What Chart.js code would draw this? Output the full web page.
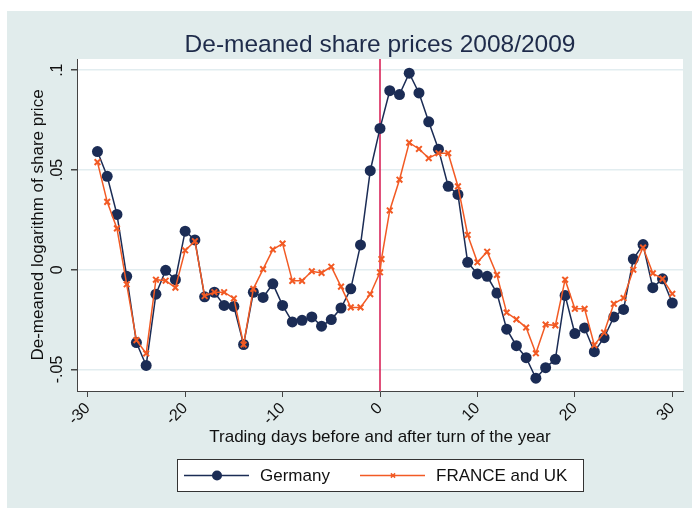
<!doctype html>
<html>
<head>
    <meta charset="utf-8" />
    <title>De-meaned share prices 2008/2009</title>
    <script src="https://cdn.jsdelivr.net/npm/chart.js@4.4.1/dist/chart.umd.min.js"></script>
    <style>
        body { margin: 0; background: #fff; }
    </style>
</head>
<body>
    <canvas id="myChart" width="692" height="508"></canvas>
    <script>
        // trading days relative to turn of the year
        var days = [-29, -28, -27, -26, -25, -24, -23, -22, -21, -20, -19, -18, -17, -16, -15,
            -14, -13, -12, -11, -10, -9, -8, -7, -6, -5, -4, -3, -2, -1, 0,
            1, 2, 3, 4, 5, 6, 7, 8, 9, 10, 11, 12, 13, 14, 15,
            16, 17, 18, 19, 20, 21, 22, 23, 24, 25, 26, 27, 28, 29, 30];
        var germany = [0.0592, 0.0468, 0.0277, -0.0033, -0.0365, -0.0480, -0.0123, -0.0003, -0.0050, 0.0193, 0.0149, -0.0136, -0.0113, -0.0179, -0.0184,
            -0.0375, -0.0113, -0.0139, -0.0071, -0.0179, -0.0262, -0.0254, -0.0237, -0.0283, -0.0250, -0.0192, -0.0096, 0.0124, 0.0496, 0.0708,
            0.0897, 0.0878, 0.0985, 0.0886, 0.0741, 0.0604, 0.0418, 0.0377, 0.0037, -0.0021, -0.0033, -0.0117, -0.0298, -0.0381, -0.0441,
            -0.0544, -0.0491, -0.0449, -0.0129, -0.0320, -0.0292, -0.0411, -0.0341, -0.0237, -0.0199, 0.0053, 0.0126, -0.0090, -0.0046, -0.0167];

        // France/UK series has two observations at day 0
        var franceDays = [-29, -28, -27, -26, -25, -24, -23, -22, -21, -20, -19, -18, -17, -16, -15,
            -14, -13, -12, -11, -10, -9, -8, -7, -6, -5, -4, -3, -2, -1, 0, 0.15,
            1, 2, 3, 4, 5, 6, 7, 8, 9, 10, 11, 12, 13, 14, 15,
            16, 17, 18, 19, 20, 21, 22, 23, 24, 25, 26, 27, 28, 29, 30];
        var franceUk = [0.0539, 0.0340, 0.0207, -0.0073, -0.0353, -0.0420, -0.0050, -0.0055, -0.0090, 0.0097, 0.0143, -0.0132, -0.0113, -0.0113, -0.0144,
            -0.0375, -0.0096, 0.0003, 0.0101, 0.0131, -0.0056, -0.0056, -0.0008, -0.0016, 0.0015, -0.0085, -0.0189, -0.0189, -0.0123, -0.0013, 0.0053,
            0.0297, 0.0451, 0.0637, 0.0605, 0.0559, 0.0584, 0.0584, 0.0418, 0.0174, 0.0037, 0.0090, -0.0026, -0.0215, -0.0249, -0.0290,
            -0.0419, -0.0275, -0.0279, -0.0050, -0.0196, -0.0196, -0.0378, -0.0315, -0.0171, -0.0142, 0.0000, 0.0111, -0.0018, -0.0046, -0.0121];

        var xTicks = [-30, -20, -10, 0, 10, 20, 30];
        var yTicks = [-0.05, 0, 0.05, 0.1];
        var yTickLabels = ["-.05", "0", ".05", ".1"];

        var navy = "#1b2c55";
        var orange = "#f25a24";

        function points(xs, ys) {
            return xs.map(function (x, i) { return { x: x, y: ys[i] }; });
        }

        // background, plot area, reference line, title and legend
        var decor = {
            id: "decor",
            beforeDraw: function (chart) {
                var ctx = chart.ctx, a = chart.chartArea;
                ctx.save();
                ctx.fillStyle = "#ffffff";
                ctx.fillRect(0, 0, chart.width, chart.height);
                ctx.fillStyle = "#e1ecec";
                ctx.fillRect(7, 11, chart.width - 7, chart.height - 11);
                ctx.fillStyle = "#ffffff";
                ctx.fillRect(a.left, a.top, a.right - a.left, a.bottom - a.top);
                ctx.restore();
            },
            beforeDatasetsDraw: function (chart) {
                var ctx = chart.ctx, a = chart.chartArea;
                var x0 = chart.scales.x.getPixelForValue(0);
                ctx.save();
                ctx.strokeStyle = "#d6164e";
                ctx.lineWidth = 1.5;
                ctx.beginPath();
                ctx.moveTo(x0, a.top);
                ctx.lineTo(x0, a.bottom);
                ctx.stroke();
                ctx.restore();
            },
            afterDraw: function (chart) {
                var ctx = chart.ctx, a = chart.chartArea;
                ctx.save();
                ctx.fillStyle = "#1e2b4a";
                ctx.font = "24.5px 'Liberation Sans', Arial, sans-serif";
                ctx.textAlign = "center";
                ctx.textBaseline = "middle";
                ctx.fillText("De-meaned share prices 2008/2009", (a.left + a.right) / 2, 45);

                // legend box
                ctx.fillStyle = "#ffffff";
                ctx.fillRect(177, 459, 406, 32);
                ctx.strokeStyle = "#333333";
                ctx.lineWidth = 1;
                ctx.strokeRect(177.5, 459.5, 406, 32);

                var y = 475.5;
                var items = [
                    { ds: chart.data.datasets[0], x: 184 },
                    { ds: chart.data.datasets[1], x: 360 }
                ];
                items.forEach(function (it) {
                    var ds = it.ds;
                    ctx.strokeStyle = ds.borderColor;
                    ctx.fillStyle = ds.backgroundColor;
                    ctx.lineWidth = 1.5;
                    ctx.beginPath();
                    ctx.moveTo(it.x, y);
                    ctx.lineTo(it.x + 65, y);
                    ctx.stroke();
                    Chart.helpers.drawPoint(ctx, {
                        pointStyle: ds.pointStyle,
                        radius: ds.legendRadius,
                        borderWidth: ds.pointBorderWidth
                    }, it.x + 33, y);
                    ctx.fillStyle = "#111111";
                    ctx.font = "17px 'Liberation Sans', Arial, sans-serif";
                    ctx.textAlign = "left";
                    ctx.textBaseline = "middle";
                    ctx.fillText(ds.label, it.x + 76, y + 1);
                });
                ctx.restore();
            }
        };

        var chart = new Chart(document.getElementById("myChart"), {
            type: "line",
            data: {
                datasets: [{
                    label: "Germany",
                    data: points(days, germany),
                    borderColor: navy,
                    backgroundColor: navy,
                    pointBackgroundColor: navy,
                    pointBorderColor: navy,
                    borderWidth: 1.5,
                    pointStyle: "circle",
                    pointRadius: 5.5,
                    pointBorderWidth: 0,
                    legendRadius: 5,
                    tension: 0,
                    order: 1
                }, {
                    label: "FRANCE and UK",
                    data: points(franceDays, franceUk),
                    borderColor: orange,
                    backgroundColor: orange,
                    pointBorderColor: orange,
                    borderWidth: 1.5,
                    pointStyle: "crossRot",
                    pointRadius: 4,
                    pointBorderWidth: 2,
                    legendRadius: 3,
                    tension: 0,
                    order: 0
                }]
            },
            options: {
                responsive: false,
                animation: false,
                layout: { padding: { left: 7, top: 59, right: 9, bottom: 0 } },
                plugins: {
                    legend: { display: false },
                    title: { display: false },
                    tooltip: { enabled: false }
                },
                scales: {
                    x: {
                        type: "linear",
                        min: -31.1,
                        max: 31.1,
                        afterBuildTicks: function (s) { s.ticks = xTicks.map(function (v) { return { value: v }; }); },
                        afterFit: function (s) { s.height = 117; },
                        ticks: {
                            minRotation: 45, maxRotation: 45,
                            padding: 2,
                            color: "#111111",
                            font: { family: "'Liberation Sans', Arial, sans-serif", size: 16 },
                            callback: function (v) { return String(v); }
                        },
                        grid: { drawOnChartArea: false, tickLength: 6, tickColor: "#444444" },
                        border: { color: "#444444" },
                        title: {
                            display: true,
                            text: "Trading days before and after turn of the year",
                            color: "#111111",
                            font: { family: "'Liberation Sans', Arial, sans-serif", size: 17 },
                            padding: { top: 0, bottom: 60 }
                        }
                    },
                    y: {
                        min: -0.0608,
                        max: 0.1056,
                        afterBuildTicks: function (s) { s.ticks = yTicks.map(function (v) { return { value: v }; }); },
                        afterFit: function (s) { s.width = 70; },
                        ticks: {
                            minRotation: 90, maxRotation: 90,
                            crossAlign: "center",
                            padding: 0,
                            color: "#111111",
                            font: { family: "'Liberation Sans', Arial, sans-serif", size: 16 },
                            callback: function (v) {
                                var i = yTicks.findIndex(function (t) { return Math.abs(t - v) < 1e-9; });
                                return i >= 0 ? yTickLabels[i] : "";
                            }
                        },
                        grid: { color: "#e2edf0", lineWidth: 1.5, tickLength: 6, tickColor: "#444444" },
                        border: { color: "#444444" },
                        title: {
                            display: true,
                            text: "De-meaned logarithm of share price",
                            color: "#111111",
                            font: { family: "'Liberation Sans', Arial, sans-serif", size: 17 },
                            padding: { top: 21, bottom: 0 }
                        }
                    }
                }
            },
            plugins: [decor]
        });
    </script>
</body>
</html>
